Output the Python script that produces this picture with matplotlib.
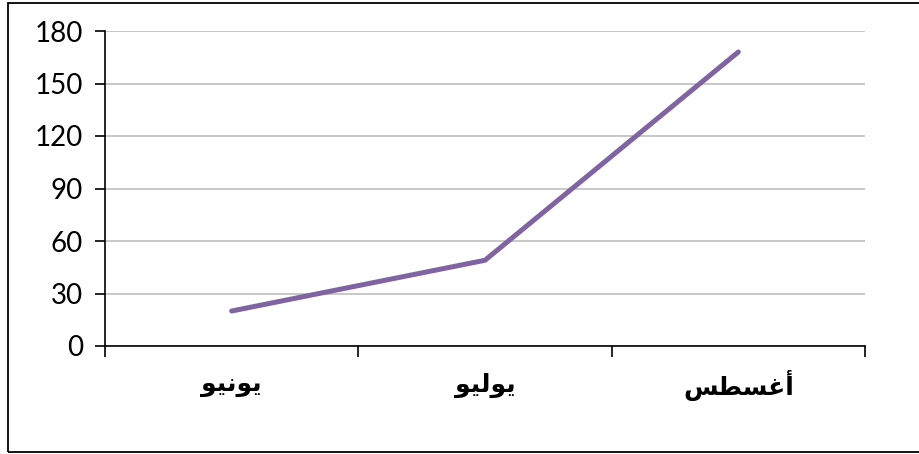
import matplotlib
matplotlib.use("Agg")
import matplotlib.pyplot as plt
from matplotlib.patches import Rectangle

# Month names (June, July, August) written in Arabic presentation forms,
# in visual (left-to-right) order so they render joined without a shaping engine.
months = [
    "\uFEEE\uFEF4\uFEE7\uFEEE\uFEF3",   # يونيو
    "\uFEEE\uFEF4\uFEDF\uFEEE\uFEF3",   # يوليو
    "\uFEB2\uFEC4\uFEB4\uFECF\uFE83",   # أغسطس
]
values = [20, 49, 168]
y_ticks = [0, 30, 60, 90, 120, 150, 180]

W, H = 919, 454
fig = plt.figure(figsize=(W / 100, H / 100), dpi=100)

# outer chart border
fig.patches.append(Rectangle((8 / W, 2 / H), 1.2, (451 - 2) / H,
                             transform=fig.transFigure, fill=False,
                             edgecolor="black", linewidth=1.3, zorder=0))

left, right = 105 / W, 865 / W
bottom, top = (H - 346) / H, (H - 31) / H
ax = fig.add_axes([left, bottom, right - left, top - bottom])

x = list(range(len(months)))
ax.plot(x, values, color="#8064A2", linewidth=3.6, solid_capstyle="round",
        solid_joinstyle="miter", zorder=3)

ax.set_xlim(-0.5, len(months) - 0.5)
ax.set_ylim(0, 180)
ax.set_yticks(y_ticks)
ax.set_yticklabels([str(v) for v in y_ticks], fontfamily="Lato", fontsize=20)
ax.tick_params(axis="y", direction="out", length=7, width=1.2, pad=9)

ax.set_xticks([i - 0.5 for i in range(len(months) + 1)], minor=False)
ax.set_xticklabels([])
ax.tick_params(axis="x", direction="out", length=8, width=1.2)
for i, m in enumerate(months):
    ax.text(i, -0.125, m, transform=ax.get_xaxis_transform(), ha="center",
            va="center", fontfamily="DejaVu Sans", fontweight="bold", fontsize=18)

ax.yaxis.grid(True, color="#BFBFBF", linewidth=1.2)
ax.set_axisbelow(True)
for s in ("top", "right"):
    ax.spines[s].set_visible(False)
ax.spines["left"].set_linewidth(1.2)
ax.spines["bottom"].set_linewidth(1.2)

fig.savefig("out.png", dpi=100)
